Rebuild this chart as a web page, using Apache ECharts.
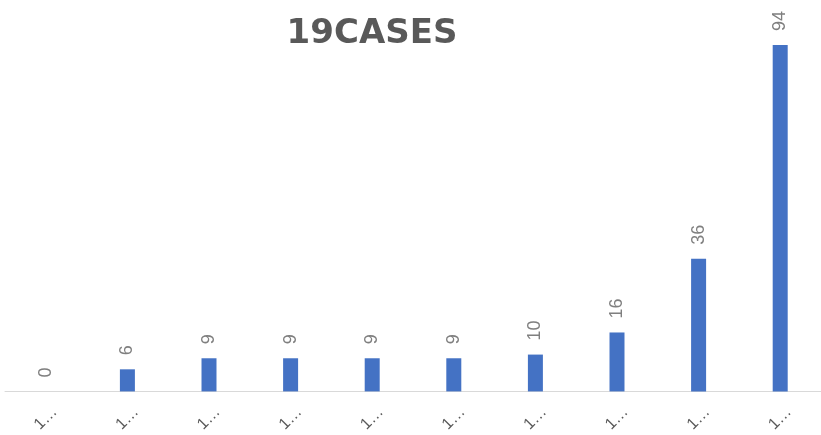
<!DOCTYPE html>
<html>
<head>
<meta charset="utf-8">
<script src="https://cdn.jsdelivr.net/npm/echarts@6/dist/echarts.min.js"></script>
<style>
  html, body { margin: 0; padding: 0; background: #fff; }
  #chart { width: 821px; height: 435px; }
</style>
</head>
<body>
<div id="chart"></div>
<script>
const categories = ['1…', '1…', '1…', '1…', '1…', '1…', '1…', '1…', '1…', '1…']
const cases = [0, 6, 9, 9, 9, 9, 10, 16, 36, 94]

const chart = echarts.init(document.getElementById('chart'))
const option = {
  animation: false,
  title: {
    text: '19CASES',
    left: 367,
    top: 12,
    textAlign: 'center',
    textStyle: {
      color: '#595959',
      fontSize: 34,
      fontWeight: 'bold',
      fontFamily: 'DejaVu Sans',
    },
  },
  grid: {
    left: 5,
    right: -4,
    top: 23,
    bottom: 42,
  },
  xAxis: {
    type: 'category',
    data: categories,
    axisLine: {
      lineStyle: { color: '#d9d9d9', width: 1 },
    },
    axisTick: { show: false },
    axisLabel: {
      rotate: 45,
      margin: 27,
      align: 'center',
      verticalAlign: 'middle',
      color: '#595959',
      fontSize: 16,
      fontFamily: 'Liberation Sans',
    },
  },
  yAxis: {
    type: 'value',
    min: 0,
    max: 100,
    show: false,
  },
  series: [{
    type: 'bar',
    data: cases,
    barWidth: 15,
    itemStyle: { color: '#4472c4' },
    label: {
      show: true,
      position: 'top',
      rotate: 90,
      align: 'left',
      verticalAlign: 'middle',
      distance: 14,
      color: '#7f7f7f',
      fontSize: 18,
      fontFamily: 'Liberation Sans',
    },
  }],
}
chart.setOption(option)
</script>
</body>
</html>
